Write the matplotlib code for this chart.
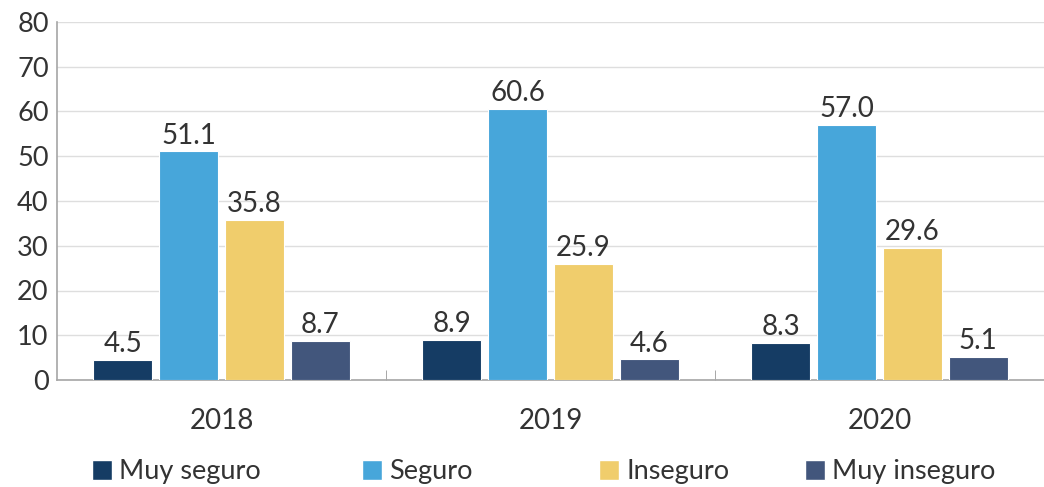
# ── Imports ───────────────────────────────────────────────────────────────────
import numpy as np
import matplotlib.pyplot as plt
from matplotlib.patches import Patch

# ── Data ──────────────────────────────────────────────────────────────────────
years        = ['2018', '2019', '2020']
muy_seguro   = [4.5, 8.9, 8.3]
seguro       = [51.1, 60.6, 57.0]
inseguro     = [35.8, 25.9, 29.6]
muy_inseguro = [8.7, 4.6, 5.1]

series = ['Muy seguro', 'Seguro', 'Inseguro', 'Muy inseguro']
colors = ['#153c64', '#47a6da', '#f0cd6c', '#42567c']
values = [muy_seguro, seguro, inseguro, muy_inseguro]

TXT = '#333333'
plt.rcParams['font.family'] = ['Lato', 'DejaVu Sans']

# ── Figure ────────────────────────────────────────────────────────────────────
W, H = 1044, 487
fig = plt.figure(figsize=(W / 100, H / 100), dpi=100)
ax = fig.add_axes([57 / W, (H - 380) / H, (W - 57) / W, 358 / H])

x = np.arange(len(years))
pitch, width = 0.2, 0.18
for i, (name, col, vals) in enumerate(zip(series, colors, values)):
    pos = x + (i - 1.5) * pitch
    ax.bar(pos, vals, width=width, color=col, edgecolor='white', linewidth=0.8, zorder=3)
    for p, v in zip(pos, vals):
        ax.text(p, v + 0.6, f'{v:.1f}', ha='center', va='bottom',
                fontsize=20, color=TXT, zorder=4)

ax.set_ylim(0, 80)
ax.set_yticks(range(0, 81, 10))
ax.set_xlim(-0.5, -0.5 + (W - 57) / 332)
ax.grid(axis='y', color='#dedede', linewidth=1, zorder=0)

ax.set_xticks(x)
ax.set_xticklabels(years)
ax.set_xticks([0.5, 1.5, 2.5], minor=True)
ax.tick_params(axis='x', which='major', length=0, pad=20, labelsize=20, labelcolor=TXT)
ax.tick_params(axis='x', which='minor', length=7, direction='in', color='#999999')
ax.tick_params(axis='y', length=0, pad=6, labelsize=19.5, labelcolor=TXT)

for s in ['top', 'right']:
    ax.spines[s].set_visible(False)
for s in ['left', 'bottom']:
    ax.spines[s].set_color('#a6a6a6')
    ax.spines[s].set_linewidth(1.2)

# ── Legend (one entry per box to match spacing) ───────────────────────────────
leg_x = [92, 362, 599, 805]
for name, col, lx in zip(series, colors, leg_x):
    leg = fig.legend(handles=[Patch(facecolor=col, edgecolor='white')], labels=[name],
                     loc='center left', bbox_to_anchor=(lx / W, (H - 472) / H),
                     frameon=False, fontsize=19.5, handlelength=0.75, handleheight=0.75,
                     handletextpad=0.25, borderaxespad=0, borderpad=0)
    for t in leg.get_texts():
        t.set_color(TXT)

plt.savefig('out.png', dpi=100)
